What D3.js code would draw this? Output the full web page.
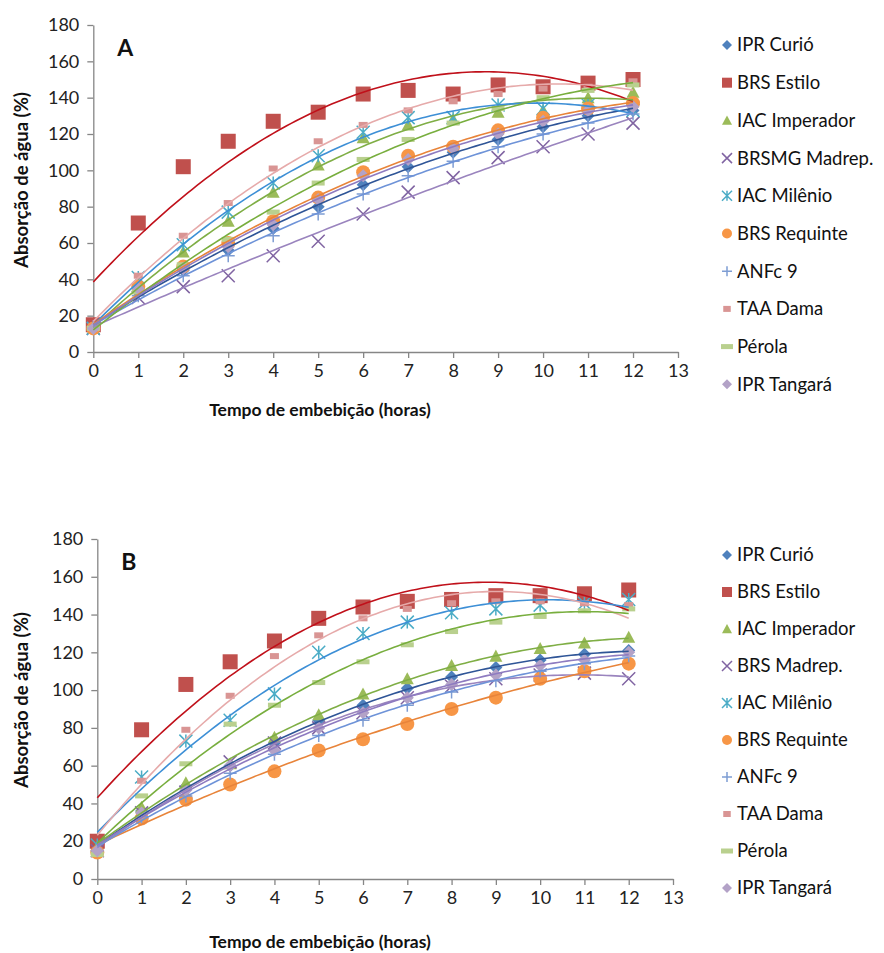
<!DOCTYPE html>
<html><head><meta charset="utf-8">
<script src="https://cdn.jsdelivr.net/npm/d3@7/dist/d3.min.js"></script>
<style>body{margin:0;background:#fff}svg{display:block}text{font-family:Lato,"Open Sans",sans-serif}</style>
</head><body>
<svg id="c" width="884" height="953"></svg>
<script>
const hours = [0,1,2,3,4,5,6,7,8,9,10,11,12];
const xTicks = [0,1,2,3,4,5,6,7,8,9,10,11,12,13];
const yTicks = [0,20,40,60,80,100,120,140,160,180];
const namesA = ["IPR Curió","BRS Estilo","IAC Imperador","BRSMG Madrep.","IAC Milênio","BRS Requinte","ANFc 9","TAA Dama","Pérola","IPR Tangará"];
const namesB = ["IPR Curió","BRS Estilo","IAC Imperador","BRS Madrep.","IAC Milênio","BRS Requinte","ANFc 9","TAA Dama","Pérola","IPR Tangará"];
// Panel A values (%)
const curioA     = [14,33,45,56,68,80,92,102,110,117,124,130,133];
const estiloA    = [15,71,102,116,127,132,142,144,142,147,146,148,150];
const imperadorA = [13,35,55,72,88,103,118,125,128,132,133,140,143];
const madrepA    = [13,30,36,42,53,61,76,88,96,107,113,120,126];
const milenioA   = [13,41,59,77,93,108,121,129,129,136,134,136,133];
const requinteA  = [13,36,47,60,72,85,99,108,113,122,129,134,137];
const anfcA      = [14,31,42,53,64,76,87,97,105,113,120,126,131];
const damaA      = [13,42,64,82,101,116,125,133,138,142,145,146,149];
const perolaA    = [13,33,48,62,77,93,106,117,126,134,140,144,147];
const tangaraA   = [13,35,46,58,70,84,97,106,112,120,127,133,135];
// Panel B values (%)
const curioB     = [16,36,49,60,72,84,92,101,107,112,116,119,121];
const estiloB    = [20,79,103,115,126,138,144,147,148,150,150,151,153];
const imperadorB = [17,38,51,61,75,87,98,106,113,118,122,125,128];
const madrepB    = [15,35,46,62,72,80,88,96,102,106,108,109,106];
const milenioB   = [18,54,73,84,98,120,130,136,141,143,145,146,148];
const requinteB  = [14,32,42,50,57,68,74,82,90,96,106,110,114];
const anfcB      = [15,33,44,56,66,76,84,92,99,105,110,114,118];
const damaB      = [15,52,79,97,118,129,138,143,146,147,147,146,145];
const perolaB    = [13,44,61,82,92,104,115,124,131,136,139,142,143];
const tangaraB   = [15,35,47,60,68,80,88,96,103,108,113,116,120];

const styles = [
 {m:"diamond", fill:"#4F81BD", line:"#2F5597"},
 {m:"square", fill:"#C0504D", line:"#C0101A"},
 {m:"triangle", fill:"#9BBB59", line:"#7FAE45"},
 {m:"x", fill:"#8064A2", line:"#9A84BE"},
 {m:"star", fill:"#4BACC6", line:"#3D8FD6"},
 {m:"circle", fill:"#F79646", line:"#E8843A"},
 {m:"plus", fill:"#7E9DD3", line:"#6E93D8"},
 {m:"dashS", fill:"#D99594", line:"#E6AAAA"},
 {m:"dashL", fill:"#B9D08E", line:"#78AE3E"},
 {m:"diamond", fill:"#B3A2C7", line:"#8E7BC0"}
];

const panels = [
 {label:"A", names:namesA, series:[curioA,estiloA,imperadorA,madrepA,milenioA,requinteA,anfcA,damaA,perolaA,tangaraA],
  x0:93.3, x1:678, y0:352, y1:25, legY0:45, legStep:37.7, titleY:410, yTitleC:180},
 {label:"B", names:namesB, series:[curioB,estiloB,imperadorB,madrepB,milenioB,requinteB,anfcB,damaB,perolaB,tangaraB],
  x0:97.3, x1:673, y0:879, y1:539, legY0:555, legStep:37, titleY:942, yTitleC:700}
];

function fitQuad(xs, ys){
  let S=[0,0,0,0,0], T=[0,0,0];
  xs.forEach((x,i)=>{ for(let k=0;k<5;k++) S[k]+=Math.pow(x,k); for(let k=0;k<3;k++) T[k]+=ys[i]*Math.pow(x,k); });
  const A=[[S[0],S[1],S[2],T[0]],[S[1],S[2],S[3],T[1]],[S[2],S[3],S[4],T[2]]];
  for(let i=0;i<3;i++){ for(let j=i+1;j<3;j++){ const f=A[j][i]/A[i][i]; for(let k=i;k<4;k++) A[j][k]-=f*A[i][k]; } }
  const c=[0,0,0];
  for(let i=2;i>=0;i--){ let s=A[i][3]; for(let k=i+1;k<3;k++) s-=A[i][k]*c[k]; c[i]=s/A[i][i]; }
  return x=>c[0]+c[1]*x+c[2]*x*x;
}

function drawMarker(g, type, cx, cy, s, fill){
  const h=s/2;
  if(type==="diamond") g.append("path").attr("d",`M${cx},${cy-h}L${cx+h},${cy}L${cx},${cy+h}L${cx-h},${cy}Z`).attr("fill",fill);
  else if(type==="square") g.append("rect").attr("x",cx-h).attr("y",cy-h).attr("width",s).attr("height",s).attr("fill",fill);
  else if(type==="triangle") g.append("path").attr("d",`M${cx},${cy-h}L${cx+h},${cy+h*0.85}L${cx-h},${cy+h*0.85}Z`).attr("fill",fill);
  else if(type==="circle") g.append("circle").attr("cx",cx).attr("cy",cy).attr("r",h).attr("fill",fill);
  else if(type==="x") g.append("path").attr("d",`M${cx-h},${cy-h}L${cx+h},${cy+h}M${cx-h},${cy+h}L${cx+h},${cy-h}`).attr("stroke",fill).attr("stroke-width",1.5).attr("fill","none");
  else if(type==="plus") g.append("path").attr("d",`M${cx-h},${cy}L${cx+h},${cy}M${cx},${cy-h}L${cx},${cy+h}`).attr("stroke",fill).attr("stroke-width",1.5).attr("fill","none");
  else if(type==="star") g.append("path").attr("d",`M${cx-h},${cy-h}L${cx+h},${cy+h}M${cx-h},${cy+h}L${cx+h},${cy-h}M${cx},${cy-h}L${cx},${cy+h}`).attr("stroke",fill).attr("stroke-width",1.5).attr("fill","none");
  else if(type==="dashS") g.append("rect").attr("x",cx-h*0.75).attr("y",cy-3).attr("width",s*0.75).attr("height",6).attr("fill",fill);
  else if(type==="dashL") g.append("rect").attr("x",cx-h).attr("y",cy-2.5).attr("width",s).attr("height",5).attr("fill",fill);
}

const svg = d3.select("#c");
const axisColor = "#868686";
panels.forEach(p=>{
  const x = d3.scaleLinear().domain([0,13]).range([p.x0,p.x1]);
  const y = d3.scaleLinear().domain([0,180]).range([p.y0,p.y1]);
  const g = svg.append("g");
  const ya = g.append("g").attr("transform",`translate(${p.x0},0)`)
    .call(d3.axisLeft(y).tickValues(yTicks).tickSize(6).tickPadding(8).tickSizeOuter(0));
  const xa = g.append("g").attr("transform",`translate(0,${p.y0})`)
    .call(d3.axisBottom(x).tickValues(xTicks).tickSize(6).tickPadding(6).tickSizeOuter(0));
  [ya,xa].forEach(a=>{ a.select(".domain").attr("stroke",axisColor).attr("stroke-width",1.3);
    a.selectAll(".tick line").attr("stroke",axisColor).attr("stroke-width",1.3);
    a.selectAll("text").attr("font-size",18).attr("fill","#222").style("font-family","Lato"); });
  p.series.forEach((vals,i)=>{
    const st=styles[i];
    const mg=g.append("g");
    const sz = st.m==="square"?15:(st.m==="circle"?14:(st.m==="dashS"?12:13));
    vals.forEach((v,j)=>drawMarker(mg, st.m, x(hours[j]), y(v), sz, st.fill));
  });
  p.series.forEach((vals,i)=>{
    const f=fitQuad(hours, vals);
    const pts=d3.range(0,12.001,0.1).map(t=>[t,f(t)]);
    g.append("path").attr("d",d3.line().x(d=>x(d[0])).y(d=>y(d[1]))(pts))
      .attr("fill","none").attr("stroke",styles[i].line).attr("stroke-width",1.6);
  });
  g.append("text").attr("x",p.x0+24).attr("y",p.y1+31).attr("font-size",23).attr("font-weight","bold").attr("fill","#111").text(p.label);
  g.append("text").attr("x",320).attr("y",p.titleY).attr("dy","0.35em").attr("text-anchor","middle")
    .attr("font-size",17.5).attr("font-weight","bold").attr("fill","#111").text("Tempo de embebição  (horas)");
  g.append("text").attr("transform",`translate(22,${p.yTitleC}) rotate(-90)`).attr("dy","0.35em").attr("text-anchor","middle")
    .attr("font-size",18.5).attr("font-weight","bold").attr("fill","#111").text("Absorção de água (%)");
  p.names.forEach((n,i)=>{
    const ly=p.legY0+i*p.legStep;
    const lg=g.append("g");
    const st=styles[i];
    drawMarker(lg, st.m, 727, ly, st.m==="dashS"?10:(st.m==="dashL"?12:10), st.fill);
    lg.append("text").attr("x",737).attr("y",ly).attr("dy","0.35em").attr("font-size",18.5).attr("fill","#111").text(n);
  });
});
</script>
</body></html>
